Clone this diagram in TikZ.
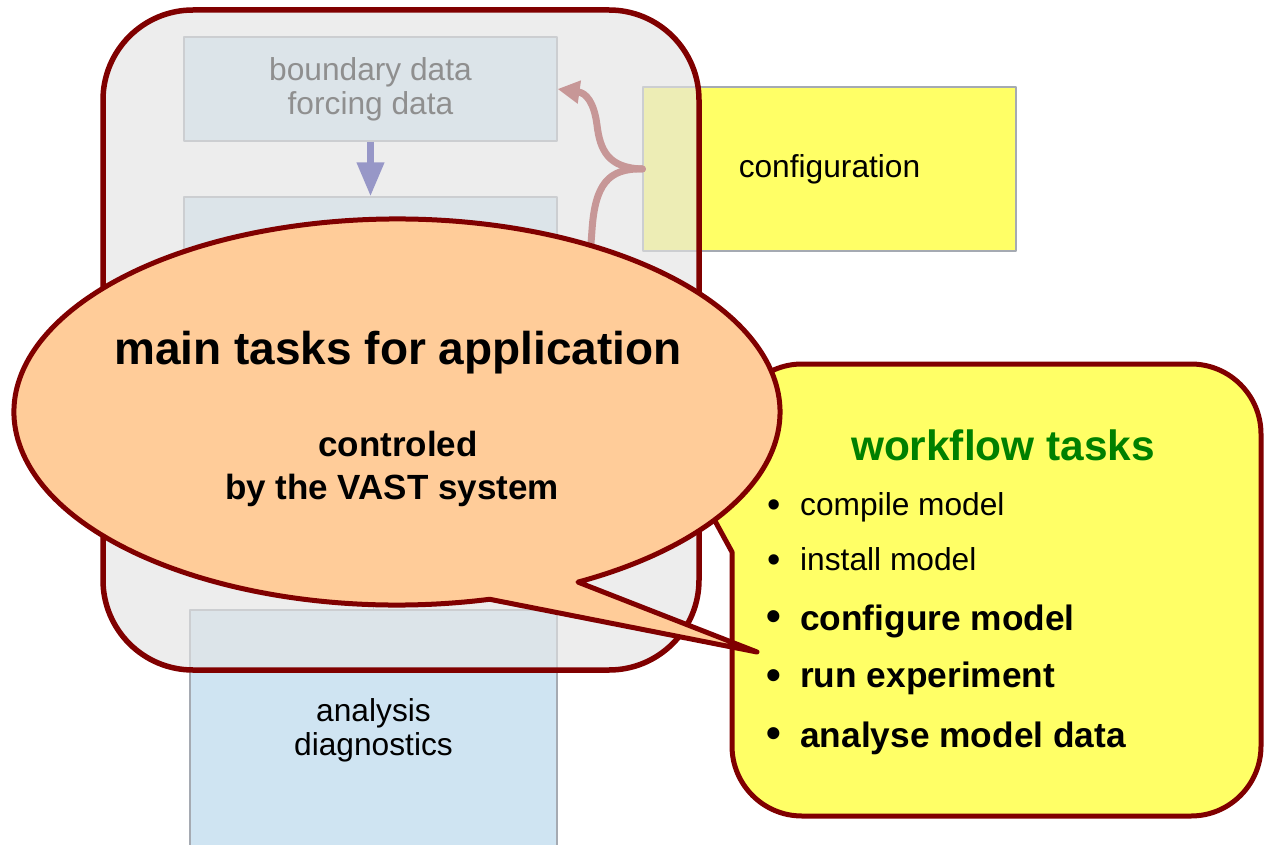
\documentclass[tikz,border=0pt]{standalone}
\usepackage{fontspec}
\setmainfont{Liberation Sans}
\usetikzlibrary{arrows.meta}
\definecolor{maroonc}{RGB}{128,0,0}
\definecolor{boxblue}{RGB}{207,228,242}
\definecolor{boxline}{RGB}{165,170,178}
\definecolor{yel}{RGB}{255,255,102}
\definecolor{peach}{RGB}{255,204,153}
\definecolor{ovl}{RGB}{228,228,228}
\definecolor{arrblue}{RGB}{20,20,150}
\definecolor{arrred}{RGB}{150,20,20}
\definecolor{grn}{RGB}{0,128,0}
\begin{document}
\begin{tikzpicture}[x=1pt,y=-1pt,line join=round,
  databox/.style={draw=boxline, line width=1.2pt, fill=boxblue, inner sep=0pt, align=center,
    font=\fontsize{31.7}{34}\selectfont},
  cfgbox/.style={draw=boxline, line width=1.2pt, fill=yel, inner sep=0pt,
    font=\fontsize{31.7}{34}\selectfont},
  overlay/.style={draw=maroonc, line width=5.5pt, fill=ovl, fill opacity=0.63, rounded corners=90pt},
  yelcallout/.style={draw=maroonc, line width=5pt, fill=yel},
  ellcallout/.style={draw=maroonc, line width=5pt, fill=peach},
  txt/.style={inner sep=0pt, anchor=base},
  itemtxt/.style={inner sep=0pt, anchor=base west},
  normalitem/.style={font=\fontsize{31.7}{34}\selectfont},
  bolditem/.style={font=\bfseries\fontsize{35.3}{38}\selectfont},
  normalbullet/.style={font=\fontsize{38}{38}\selectfont},
  boldbullet/.style={font=\bfseries\fontsize{42}{42}\selectfont},
  bluearrow/.style={draw=arrblue, line width=7pt, -{Triangle[width=26pt,length=34pt]}},
  redarrow/.style={draw=arrred, line width=7pt, line cap=round},
]
\useasboundingbox (0,0) rectangle (1266,845);
\fill[white] (0,0) rectangle (1266,845);

% data boxes
\node[databox, minimum width=373pt, minimum height=104pt] (bnd) at (370.5,89) {boundary data\\forcing data};
\node[databox, minimum width=373pt, minimum height=363pt] (model) at (370.5,378.5) {};
\node[databox, minimum width=367pt, minimum height=240pt] (ana) at (373.5,730) {analysis\\diagnostics};
\draw[bluearrow] (bnd.south) -- (model.north);
\draw[draw=boxline, line width=1.2pt] (model.south -| ana.north) -- (ana.north);

% configuration
\node[cfgbox, minimum width=373pt, minimum height=164pt] (cfg) at (829.5,169) {configuration};
\coordinate (cfgend) at (589,270);
\draw[redarrow, -{Triangle[width=22pt,length=22pt]}] (cfg.west) .. controls (608,168) and (600,150) .. (597,125)
   .. controls (594,102) and (586,93) .. (bnd.east);
\draw[redarrow] (cfg.west) .. controls (608,168) and (595,185) .. (592,230) -- (cfgend);

% translucent grey frame
\draw[overlay] (103,10) rectangle (699,670);

% yellow callout
\draw[yelcallout] (680,457) -- (732,552) -- (732,746)
  arc[start angle=180, end angle=270, radius=70pt] -- (1191,816)
  arc[start angle=270, end angle=360, radius=70pt] -- (1261,434)
  arc[start angle=0, end angle=90, radius=70pt] -- (802,364)
  arc[start angle=90, end angle=180, radius=70pt] -- (732,440) -- cycle;

% ellipse callout
\draw[ellcallout] ([shift={(397,412)}]-76:383pt and 193pt)
  arc[start angle=-76, end angle=-421.8, x radius=383pt, y radius=193pt]
  -- (757,652) -- cycle;

% ellipse texts
\node[txt, font=\bfseries\fontsize{46}{46}\selectfont] (title) at (398,364) {main tasks for application};
\node[txt, font=\bfseries\fontsize{35}{35}\selectfont] (ctrla) at (398,456) {controled};
\node[txt, font=\bfseries\fontsize{35}{35}\selectfont] (ctrlb) at (392,499) {by the VAST system};

% workflow texts
\node[txt, font=\bfseries\fontsize{42.4}{42.4}\selectfont, text=grn] (wf) at (1003,460) {workflow tasks};
\node[txt, normalbullet] (b1) at (774,517) {•};
\node[itemtxt, normalitem] (i1) at (800,515) {compile model};
\node[txt, normalbullet] (b2) at (774,572) {•};
\node[itemtxt, normalitem] (i2) at (800,570) {install model};
\node[txt, boldbullet] (b3) at (774,630.5) {•};
\node[itemtxt, bolditem] (i3) at (800,630) {configure model};
\node[txt, boldbullet] (b4) at (774,689) {•};
\node[itemtxt, bolditem] (i4) at (800,687) {run experiment};
\node[txt, boldbullet] (b5) at (774,747) {•};
\node[itemtxt, bolditem] (i5) at (800,747) {analyse model data};
\end{tikzpicture}
\end{document}
